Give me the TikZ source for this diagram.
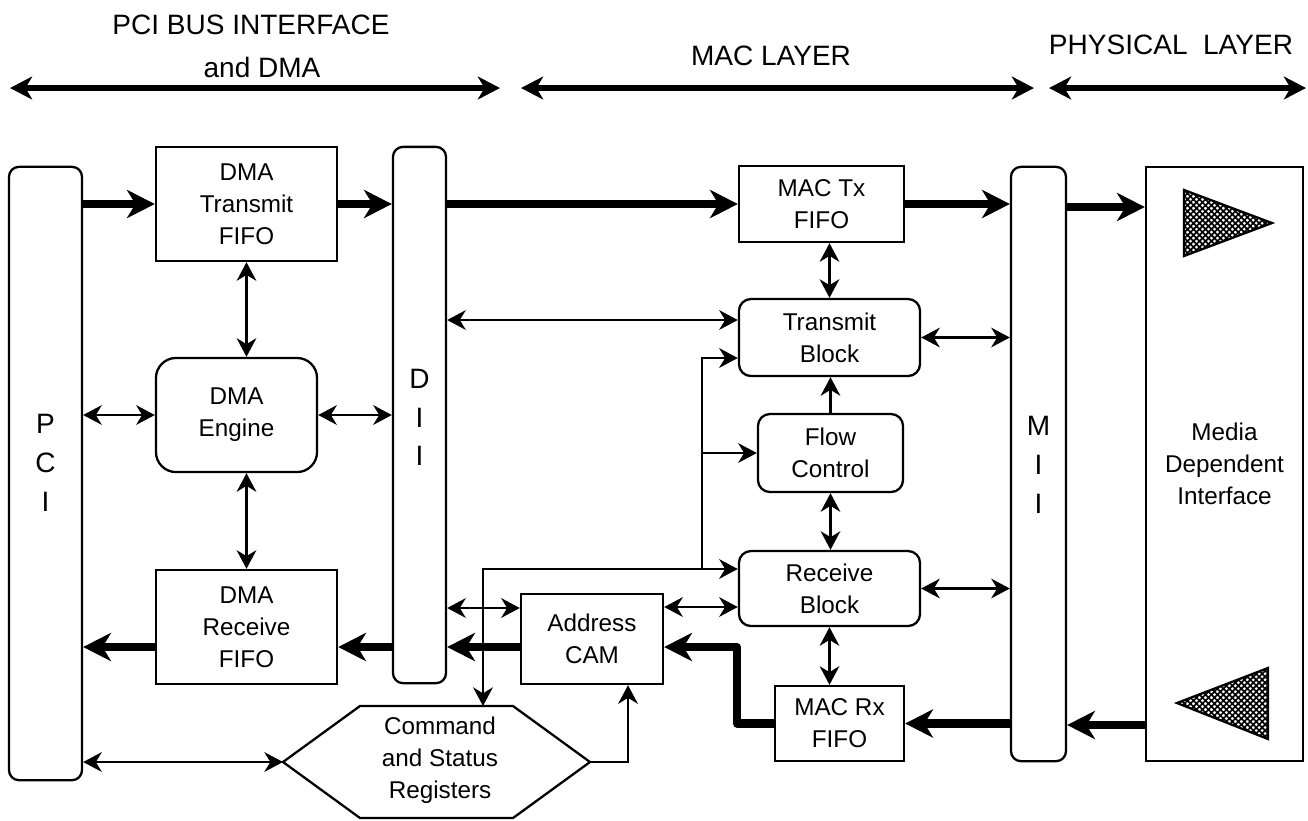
\documentclass[tikz,border=0pt]{standalone}
\usepackage{fontspec}
\setmainfont{Liberation Sans}
\usetikzlibrary{arrows.meta,patterns.meta}

\newcommand{\blockfont}{\fontsize{6.9pt}{9.1pt}\selectfont}
\newcommand{\titlefont}{\fontsize{7.97pt}{11.4pt}\selectfont}
\newcommand{\busfont}{\fontsize{7.97pt}{11.0pt}\selectfont}

\tikzset{
  blk/.style={draw, line width=0.65pt, inner sep=0pt, align=center, font=\blockfont},
  rblk/.style={blk, rounded corners=0.12cm},
  bus/.style={draw, line width=0.65pt, rounded corners=0.1cm, inner sep=0pt},
  lbl/.style={inner sep=0pt, align=center},
  conn/.style={line width=0.6pt, -{Stealth[length=5.3pt,width=5.6pt,inset=1.7pt]}},
  dconn/.style={line width=0.6pt, {Stealth[length=5.3pt,width=5.6pt,inset=1.7pt]}-{Stealth[length=5.3pt,width=5.6pt,inset=1.7pt]}},
  fat/.style={line width=2.3pt, line join=round, -{Stealth[length=7.9pt,width=8pt,inset=2.4pt]}},
  layerarrow/.style={line width=1.6pt, {Stealth[length=6.3pt,width=6.5pt,inset=1.9pt]}-{Stealth[length=6.3pt,width=6.5pt,inset=1.9pt]}},
  hatch/.style={pattern={Lines[angle=45,distance=1.2pt,line width=0.5pt]}},
  hatchb/.style={pattern={Lines[angle=-45,distance=1.2pt,line width=0.5pt]}},
}

\begin{document}
\begin{tikzpicture}[x=0.01cm,y=-0.01cm]
\useasboundingbox (0,0) rectangle (1308,820);

% ---- layer headings ----
\node[lbl, font=\titlefont] (t1) at (251,25) {PCI BUS INTERFACE};
\node[lbl, font=\titlefont] (t2) at (262,67) {and DMA};
\node[lbl, font=\titlefont] (t3) at (771,56) {MAC LAYER};
\node[lbl, font=\titlefont] (t4) at (1171,45) {PHYSICAL\ \ LAYER};
\coordinate (h1a) at (10,88);   \coordinate (h1b) at (500,88);
\coordinate (h2a) at (521,88);  \coordinate (h2b) at (1034,88);
\coordinate (h3a) at (1049,88); \coordinate (h3b) at (1306,88);
\draw[layerarrow] (h1a) -- (h1b);
\draw[layerarrow] (h2a) -- (h2b);
\draw[layerarrow] (h3a) -- (h3b);

% ---- interface columns ----
\node[bus, minimum width=0.73cm, minimum height=6.13cm] (pci) at (45.5,473.5) {};
\node[lbl, font=\busfont] (pcitxt) at (45.5,463) {P\\C\\I};
\node[bus, minimum width=0.53cm, minimum height=5.36cm] (dii) at (419.5,415) {};
\node[lbl, font=\busfont] (diitxt) at (419.5,417.5) {D\\I\\I};
\node[bus, minimum width=0.55cm, minimum height=5.94cm] (mii) at (1038.5,464) {};
\node[lbl, font=\busfont] (miitxt) at (1038.5,465) {M\\I\\I};
\node[blk, minimum width=1.57cm, minimum height=5.94cm] (mdi) at (1224.5,464) {Media\\Dependent\\Interface};

% ---- functional blocks ----
\node[blk, minimum width=1.81cm, minimum height=1.14cm] (dtx) at (246.5,204) {DMA\\Transmit\\FIFO};
\node[blk, rounded corners=0.2cm, minimum width=1.61cm, minimum height=1.14cm] (eng) at (236.5,415) {DMA\\Engine};
\node[blk, minimum width=1.81cm, minimum height=1.14cm] (drx) at (246.5,627) {DMA\\Receive\\FIFO};
\node[blk, minimum width=1.65cm, minimum height=0.76cm] (mtx) at (821.5,204) {MAC Tx\\FIFO};
\node[rblk, minimum width=1.81cm, minimum height=0.77cm] (txb) at (829.5,337.5) {Transmit\\Block};
\node[rblk, minimum width=1.45cm, minimum height=0.78cm] (flc) at (830.5,453) {Flow\\Control};
\node[rblk, minimum width=1.81cm, minimum height=0.75cm] (rxb) at (829.5,588.5) {Receive\\Block};
\node[blk, minimum width=1.29cm, minimum height=0.75cm] (mrx) at (839.5,723.5) {MAC Rx\\FIFO};
\node[blk, minimum width=1.42cm, minimum height=0.90cm] (cam) at (592,639) {Address\\CAM};

% ---- command and status registers (hexagon) ----
\coordinate (csrL) at (283,762);
\coordinate (csrR) at (590,762);
\draw[line width=0.65pt] (csrL) -- (360,706) -- (513,706) -- (csrR) -- (513,818) -- (360,818) -- cycle;
\node[lbl, font=\blockfont] (csr) at (440,760) {Command\\and Status\\Registers};

% ---- line driver / receiver symbols ----
\path[hatch]  (1184,190) -- (1272,223) -- (1184,256) -- cycle;
\path[hatchb] (1184,190) -- (1272,223) -- (1184,256) -- cycle;
\draw[line width=0.65pt] (1184,190) -- (1272,223) -- (1184,256) -- cycle;
\path[hatch]  (1268,668) -- (1177,703) -- (1268,739) -- cycle;
\path[hatchb] (1268,668) -- (1177,703) -- (1268,739) -- cycle;
\draw[line width=0.65pt] (1268,668) -- (1177,703) -- (1268,739) -- cycle;

% ---- transmit data path ----
\draw[fat] (pci.east |- dtx.west) -- (dtx.west);
\draw[fat] (dtx.east) -- (dii.west |- dtx.east);
\draw[fat] (dii.east |- mtx.west) -- (mtx.west);
\draw[fat] (mtx.east) -- (mii.west |- mtx.east);
\draw[fat] (mii.east |- 0,207) -- (mdi.west |- 0,207);

% ---- receive data path ----
\draw[fat] (mdi.west |- 0,725) -- (mii.east |- 0,725);
\draw[fat] (mii.west |- mrx.east) -- (mrx.east);
\coordinate (rxbend) at (737,647);
\draw[fat] (mrx.west) -| (rxbend) -- (cam.east |- rxbend);
\draw[fat] (cam.west |- 0,647) -- (dii.east |- 0,647);
\draw[fat] (dii.west |- 0,647) -- (drx.east |- 0,647);
\draw[fat] (drx.west |- 0,647) -- (pci.east |- 0,647);

% ---- DMA control ----
\draw[dconn] (dtx.south) -- (dtx.south |- eng.north);
\draw[dconn] (dtx.south |- eng.south) -- (drx.north);
\draw[dconn] (pci.east |- eng.west) -- (eng.west);
\draw[dconn] (eng.east) -- (dii.west |- eng.east);
\draw[dconn] (dii.east |- 0,608) -- (cam.west |- 0,608);
\draw[dconn] (dii.east |- 0,320) -- (txb.west |- 0,320);
\draw[dconn] (pci.east |- csrL) -- (csrL);
\draw[conn] (csrR) -| ([xshift=0.36cm]cam.south);

% ---- MAC control ----
\draw[dconn] (txb.north |- mtx.south) -- (txb.north);
\draw[conn] (flc.north) -- (flc.north |- txb.south);
\draw[dconn] (flc.south) -- (flc.south |- rxb.north);
\draw[dconn] (rxb.south) -- (rxb.south |- mrx.north);
\draw[dconn] (txb.east) -- (mii.west |- txb.east);
\draw[dconn] (rxb.east) -- (mii.west |- rxb.east);
\draw[dconn] (cam.east |- 0,607) -- (rxb.west |- 0,607);

% ---- register control lines ----
\coordinate (csrin) at (483,706);
\coordinate (jn) at (702,569);
\draw[dconn] (csrin) |- (rxb.west |- jn);
\draw[conn] (jn) |- (txb.west |- 0,358);
\draw[conn] (jn |- flc.west) -- (flc.west);
\end{tikzpicture}
\end{document}
